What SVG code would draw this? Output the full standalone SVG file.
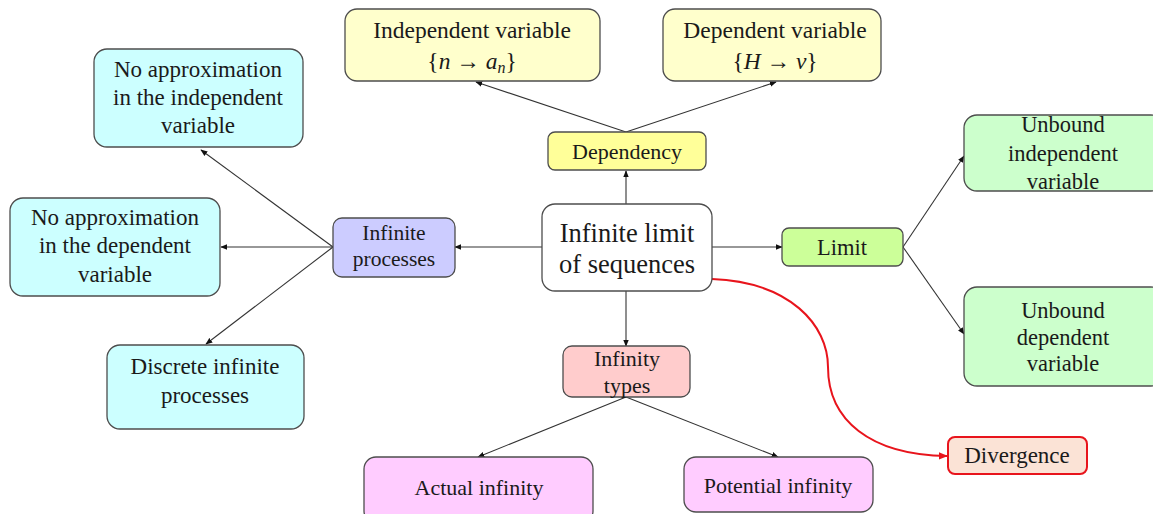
<svg xmlns="http://www.w3.org/2000/svg" width="1153" height="514" viewBox="0 0 1153 514">
<style>
  text { fill: #1a1a1a; text-anchor: middle; }
  .box { stroke: #4d4d4d; stroke-width: 1.3; }
  .edge { stroke: #333; stroke-width: 1.1; fill: none; marker-end: url(#arr); }
  .red { stroke: #e8141c; stroke-width: 2; fill: none; marker-end: url(#arrRed); }
  .m { font-style: italic; }
</style>
<defs>
  <marker id="arr" viewBox="0 0 10 10" refX="9" refY="5" markerWidth="7" markerHeight="7" markerUnits="userSpaceOnUse" orient="auto">
    <path d="M0,1 L10,5 L0,9 z" fill="#111"/>
  </marker>
  <marker id="arrRed" viewBox="0 0 10 10" refX="9" refY="5" markerWidth="9" markerHeight="9" markerUnits="userSpaceOnUse" orient="auto">
    <path d="M0,1 L10,5 L0,9 z" fill="#e8141c"/>
  </marker>
</defs>
<rect width="1153" height="514" fill="#ffffff"/>

<g id="connectors">
  <line class="edge" x1="626" y1="132" x2="476" y2="82"/>
  <line class="edge" x1="626" y1="132" x2="776" y2="82"/>
  <line class="edge" x1="626" y1="205" x2="626" y2="171"/>
  <line class="edge" x1="542" y1="247" x2="455" y2="247"/>
  <line class="edge" x1="712" y1="247" x2="782" y2="247"/>
  <line class="edge" x1="333" y1="247" x2="201" y2="150"/>
  <line class="edge" x1="333" y1="247" x2="221" y2="247"/>
  <line class="edge" x1="333" y1="247" x2="206" y2="344"/>
  <line class="edge" x1="903" y1="247" x2="964" y2="156"/>
  <line class="edge" x1="903" y1="247" x2="964" y2="334"/>
  <line class="edge" x1="626" y1="291" x2="626" y2="346"/>
  <line class="edge" x1="626" y1="397" x2="478" y2="457"/>
  <line class="edge" x1="626" y1="397" x2="778" y2="457"/>
  <path class="red" d="M712,279 C790,282 828,325 828,367 C828,420 870,455 947,456"/>
</g>

<g id="n-indep" font-family="Liberation Serif">
  <rect class="box" x="345" y="9" width="255" height="72" rx="12" fill="#ffffcc"/>
  <text x="472" y="38" font-size="23.5">Independent variable</text>
  <text x="472" y="69" font-size="23.5">{<tspan class="m">n</tspan> → <tspan class="m">a</tspan><tspan class="m" font-size="16" dy="4">n</tspan><tspan dy="-4">}</tspan></text>
</g>

<g id="n-dep" font-family="Liberation Serif">
  <rect class="box" x="663" y="9" width="218" height="72" rx="12" fill="#ffffcc"/>
  <text x="775" y="38" font-size="23.5">Dependent variable</text>
  <text x="775" y="69" font-size="23.5">{<tspan class="m">H</tspan> → <tspan class="m">v</tspan>}</text>
</g>

<g id="n-dependency" font-family="Liberation Serif">
  <rect class="box" x="548" y="132" width="158" height="38" rx="7" fill="#ffff99"/>
  <text x="627" y="159" font-size="22">Dependency</text>
</g>

<g id="n-center" font-family="Liberation Serif">
  <rect class="box" x="542" y="204" width="170" height="87" rx="13" fill="#ffffff"/>
  <text x="627" y="242" font-size="26.5">Infinite limit</text>
  <text x="627" y="273" font-size="26.5">of sequences</text>
</g>

<g id="n-limit" font-family="Liberation Serif">
  <rect class="box" x="782" y="228" width="121" height="38" rx="7" fill="#ccff99"/>
  <text x="842" y="255" font-size="22.5">Limit</text>
</g>

<g id="n-infproc" font-family="Liberation Serif">
  <rect class="box" x="333" y="218" width="122" height="59" rx="9" fill="#ccccff"/>
  <text x="394" y="240" font-size="21.5">Infinite</text>
  <text x="394" y="266" font-size="21.5">processes</text>
</g>

<g id="n-noapprox-indep" font-family="Liberation Serif">
  <rect class="box" x="94" y="49" width="209" height="98" rx="13" fill="#ccffff"/>
  <text x="198" y="77" font-size="23">No approximation</text>
  <text x="198" y="105" font-size="23">in the independent</text>
  <text x="198" y="133" font-size="23">variable</text>
</g>

<g id="n-noapprox-dep" font-family="Liberation Serif">
  <rect class="box" x="10" y="198" width="210" height="98" rx="13" fill="#ccffff"/>
  <text x="115" y="225" font-size="23">No approximation</text>
  <text x="115" y="253" font-size="23">in the dependent</text>
  <text x="115" y="282" font-size="23">variable</text>
</g>

<g id="n-discrete" font-family="Liberation Serif">
  <rect class="box" x="107" y="345" width="197" height="84" rx="13" fill="#ccffff"/>
  <text x="205" y="374" font-size="23">Discrete infinite</text>
  <text x="205" y="403" font-size="23">processes</text>
</g>

<g id="n-unbound-indep" font-family="Liberation Serif">
  <rect class="box" x="964" y="115" width="200" height="76" rx="13" fill="#ccffcc"/>
  <text x="1063" y="132" font-size="22.5">Unbound</text>
  <text x="1063" y="161" font-size="22.5">independent</text>
  <text x="1063" y="189" font-size="22.5">variable</text>
</g>

<g id="n-unbound-dep" font-family="Liberation Serif">
  <rect class="box" x="964" y="287" width="200" height="99" rx="13" fill="#ccffcc"/>
  <text x="1063" y="318" font-size="22.5">Unbound</text>
  <text x="1063" y="345" font-size="22.5">dependent</text>
  <text x="1063" y="371" font-size="22.5">variable</text>
</g>

<g id="n-inftypes" font-family="Liberation Serif">
  <rect class="box" x="563" y="346" width="127" height="51" rx="9" fill="#ffcccc"/>
  <text x="627" y="366" font-size="22">Infinity</text>
  <text x="627" y="393" font-size="22">types</text>
</g>

<g id="n-actual" font-family="Liberation Serif">
  <rect class="box" x="364" y="457" width="229" height="66" rx="12" fill="#ffccff"/>
  <text x="479" y="495" font-size="22">Actual infinity</text>
</g>

<g id="n-potential" font-family="Liberation Serif">
  <rect class="box" x="684" y="457" width="189" height="55" rx="12" fill="#ffccff"/>
  <text x="778" y="493" font-size="22">Potential infinity</text>
</g>

<g id="n-divergence" font-family="Liberation Serif">
  <rect x="948" y="437" width="139" height="37" rx="7" fill="#fbe3d6" stroke="#e8141c" stroke-width="2"/>
  <text x="1017" y="463" font-size="23">Divergence</text>
</g>
</svg>
